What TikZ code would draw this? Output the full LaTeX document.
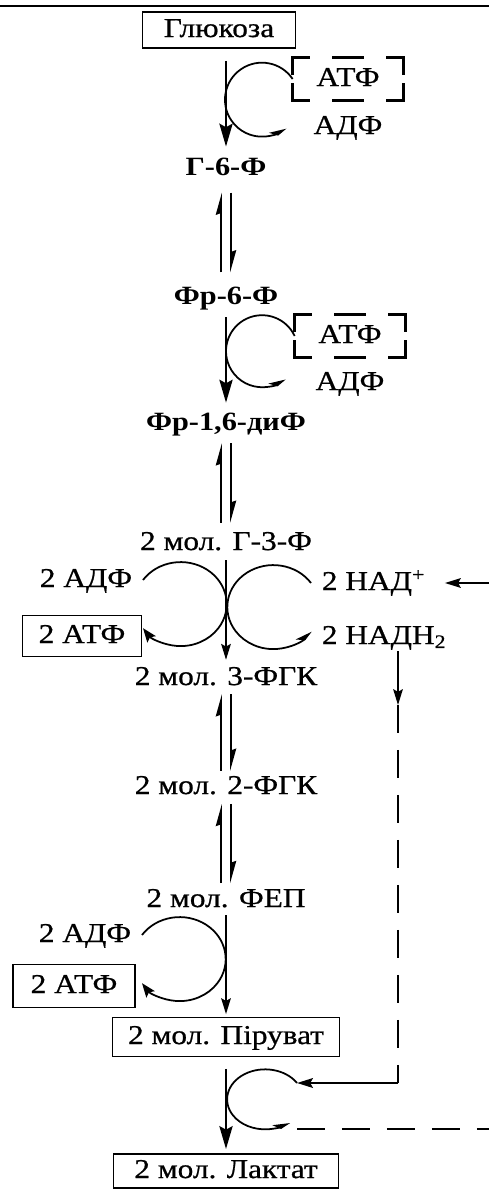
\documentclass[tikz,border=0pt]{standalone}
\usepackage{fontspec}
\setmainfont{Liberation Serif}[FakeStretch=1.15,UprightFeatures={FakeBold=0.7}]
\usetikzlibrary{calc,arrows.meta}

\tikzset{
  lbl/.style={inner sep=1pt,text height=11pt,text depth=3pt},
  side/.style={lbl,inner xsep=6pt},
  met/.style={lbl,font=\fontsize{15}{18}\selectfont\bfseries},
  box/.style={lbl,draw,line width=1.1pt,inner sep=0pt},
  brk/.style={line width=1.6pt},
  bigarr/.style={line width=1.3pt,-{Stealth[length=13pt,width=7.5pt,inset=2pt]}},
  arr/.style={line width=.9pt,-{Stealth[length=9pt,width=5.5pt,inset=1.5pt]}},
  eq/.style={line width=.9pt,-{Stealth[harpoon,length=11pt,width=6pt,inset=1pt]}},
  cyc/.style={line width=1pt,-{Stealth[harpoon,length=8pt,width=8pt]}},
  cycl/.style={line width=1pt,-{Stealth[length=8pt,width=6pt,inset=1.5pt]}},
  dashline/.style={line width=1.5pt,dash pattern=on 16pt off 9.6pt},
}

\begin{document}
\begin{tikzpicture}[>=Stealth,x=0.2mm,y=0.2mm,font=\fontsize{15.5}{18}\selectfont]
\useasboundingbox (0,0) rectangle (489,-1190);
% rule at the top
\draw[line width=1.2pt] (0,-6) -- (489,-6);
% metabolites on the main axis
\node[box,minimum width=3.06cm,minimum height=0.72cm] (glu) at (219,-30) {Глюкоза};
\node[met] (g6p) at (226,-168) {Г-6-Ф};
\node[met] (f6p) at (226,-297) {Фр-6-Ф};
\node[met] (f16) at (226,-423) {Фр-1,6-диФ};
\node[lbl] (g3p) at (226,-543) {2 мол. Г-3-Ф};
\node[lbl] (pg3) at (226,-678) {2 мол. 3-ФГК};
\node[lbl] (pg2) at (226,-787) {2 мол. 2-ФГК};
\node[lbl] (pep) at (226,-900) {2 мол. ФЕП};
\node[box,minimum width=4.54cm,minimum height=0.78cm] (pyr) at (226,-1037) {2 мол. Піруват};
\node[box,minimum width=4.5cm,minimum height=0.68cm] (lac) at (226,-1171) {2 мол. Лактат};
% cofactors
\node[lbl,minimum width=2.2cm,minimum height=0.84cm] (atp1) at (348,-79) {АТФ};
\node[lbl] (adp1) at (348,-127) {АДФ};
\node[lbl,minimum width=2.2cm,minimum height=0.84cm] (atp2) at (350,-336) {АТФ};
\node[lbl] (adp2) at (350,-383) {АДФ};
\node[side,anchor=east] (adp3) at (143,-580) {2 АДФ};
\node[box,minimum width=2.38cm,minimum height=0.82cm] (atp3) at (82,-636) {2 АТФ};
\node[side,anchor=west] (nad) at (311,-583) {2 НАД\textsuperscript{+}};
\node[side,anchor=west] (nadh) at (311,-637) {2 НАДН\textsubscript{2}};
\node[side,anchor=east] (adp4) at (142,-935) {2 АДФ};
\node[box,minimum width=2.44cm,minimum height=0.86cm] (atp4) at (74,-986) {2 АТФ};
% dashed brackets round ATP
\foreach \n in {atp1,atp2}{
  \draw[brk] ($(\n.north west)+(17,0)$) -| ($(\n.north west)+(0,-17)$);
  \draw[brk] ($(\n.south west)+(0,17)$) |- ($(\n.south west)+(17,0)$);
  \draw[brk] ($(\n.north east)+(-17,0)$) -| ($(\n.north east)+(0,-17)$);
  \draw[brk] ($(\n.south east)+(0,17)$) |- ($(\n.south east)+(-17,0)$);
  \draw[brk] ($(\n.north)+(-16,0)$) -- ($(\n.north)+(16,0)$);
  \draw[brk] ($(\n.south)+(-16,0)$) -- ($(\n.south)+(16,0)$);
}
% one-way steps
\draw[bigarr,shorten <=6.8pt,shorten >=4pt] (g6p.north |- glu.south) -- (g6p.north);
\draw[bigarr,shorten <=3.4pt,shorten >=3.4pt] (f6p) -- (f16);
\draw[arr,shorten <=1.7pt,shorten >=2.2pt] (g3p) -- (pg3);
\draw[arr,shorten <=0.5pt,shorten >=1.4pt] (pep) -- (pyr);
\draw[bigarr,shorten <=6.5pt,shorten >=2.3pt] (pyr) -- (lac);
% reversible steps
\foreach \a/\b/\s in {g6p/f6p/5.8pt,f16/g3p/3.3pt,pg3/pg2/1pt,pg2/pep/1.4pt}{
  \draw[eq,shorten <=\s,shorten >=\s] ([xshift=-2.8pt]\b.north) -- ([xshift=-2.8pt]\a.south);
  \draw[eq,shorten <=\s,shorten >=\s] ([xshift=2.8pt]\a.south) -- ([xshift=2.8pt]\b.north);
}
% coupled reactions
\draw[cyc] (atp1.west) arc[start angle=34,end angle=310,radius=37];
\draw[cyc] (atp2.west) arc[start angle=25,end angle=310,radius=36];
\draw[cycl] (adp3.east) arc[start angle=145,end angle=-145,x radius=46,y radius=42];
\draw[cyc] (nad.west) arc[start angle=35,end angle=325,x radius=46,y radius=42];
\draw[cycl] (adp4.east) arc[start angle=145,end angle=-145,x radius=46,y radius=42];
% NADH2 goes back down to pyruvate
\coordinate (ntop) at (398,-705);
\coordinate (ncorner) at (398,-1083);
\coordinate (nin) at (297,-1083);
\coordinate (nout) at (297,-1129);
\coordinate (nedge) at (489,-1129);
\coordinate (nadsrc) at (489,-583);
\draw[arr] (nadh.south -| ntop) -- (ntop);
\draw[dashline] (ntop) -- (ncorner);
\draw[arr,line width=1.4pt] (ncorner) -- (nin);
\draw[cyc] (nin) arc[start angle=33,end angle=310,x radius=38,y radius=30];
\draw[dashline] (nout) -- (nedge);
\draw[arr,line width=1pt,shorten >=5pt] (nadsrc) -- (nad.east);
\end{tikzpicture}
\end{document}
